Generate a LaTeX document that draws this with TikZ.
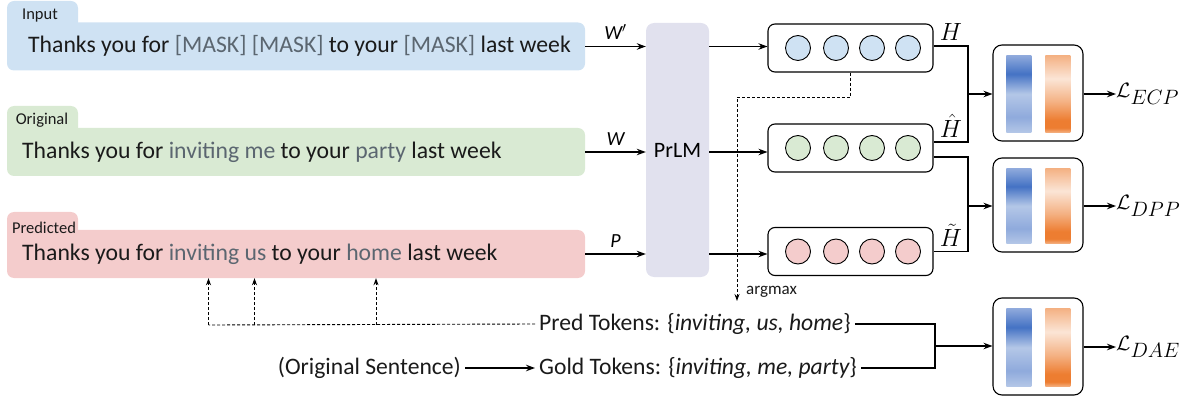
\documentclass[tikz,border=0pt]{standalone}
\usepackage{fontspec}
\setmainfont{Carlito}
\usetikzlibrary{arrows.meta,calc}
\definecolor{inblue}{HTML}{CFE2F3}
\definecolor{orggreen}{HTML}{D9EAD3}
\definecolor{predred}{HTML}{F4CCCC}
\definecolor{lmgray}{HTML}{E1E1EE}
\definecolor{wgray}{HTML}{5B6670}
\definecolor{txt}{HTML}{1A1A1A}
\definecolor{bL}{HTML}{B4C7E7}
\definecolor{bD}{HTML}{4472C4}
\definecolor{bM}{HTML}{8FAADC}
\definecolor{oL}{HTML}{FBE5D6}
\definecolor{oM}{HTML}{F4B183}
\definecolor{oD}{HTML}{ED7D31}
\pgfdeclareverticalshading{blueshade}{100bp}{color(0bp)=(bL); color(25bp)=(bL); color(35bp)=(bM); color(50bp)=(bL); color(63bp)=(bD); color(75bp)=(bM); color(100bp)=(bM)}
\pgfdeclareverticalshading{orangeshade}{100bp}{color(0bp)=(oM); color(25bp)=(oM); color(28bp)=(oD); color(33bp)=(oD); color(45bp)=(oM); color(60bp)=(oL); color(75bp)=(oM); color(100bp)=(oM)}
\begin{document}
\begin{tikzpicture}[x=1pt,y=-1pt,
  >={Stealth[length=9pt,width=6.5pt]},
  conn/.style={line width=1.1pt,->},
  plain/.style={line width=1.1pt},
  dsh/.style={line width=0.9pt, dash pattern=on 3pt off 2pt, -{Stealth[length=7pt,width=5pt]}},
  dshline/.style={line width=0.9pt, dash pattern=on 3pt off 2pt},
  sentbox/.style={rectangle, rounded corners=7pt, minimum width=578pt, minimum height=48pt, inner sep=0pt},
  tabbox/.style={rectangle, rounded corners=7pt, minimum width=71pt, minimum height=36pt, inner sep=0pt},
  tablabel/.style={font=\fontsize{16.5}{16.5}\selectfont, text=txt, inner sep=0pt},
  senttext/.style={font=\fontsize{23.7}{23.7}\selectfont, text=txt, anchor=west, inner sep=0pt},
  embbox/.style={draw, rounded corners=7pt, line width=1.1pt, minimum width=165pt, minimum height=48pt, inner sep=0pt},
  vec/.style={circle, draw, line width=0.9pt, minimum size=25pt, inner sep=0pt},
  clsbox/.style={draw, rounded corners=9pt, line width=1.1pt, minimum width=90pt, inner sep=0pt},
  hlabel/.style={font=\fontsize{26}{26}\selectfont, inner sep=0pt},
  llabel/.style={font=\fontsize{21}{21}\selectfont, inner sep=0pt, anchor=west},
  wlabel/.style={font=\fontsize{20}{20}\selectfont\itshape, inner sep=0pt},
  ttext/.style={font=\fontsize{23.6}{23.6}\selectfont, text=txt, inner xsep=4pt, inner ysep=0pt},
]
\useasboundingbox (0,0) rectangle (1189,398);

% sentence boxes with tabs
\node[tabbox, fill=inblue] (intab) at (42.5,19) {};
\node[sentbox, fill=inblue] (inbox) at (296,46.5) {};
\node[tablabel] (intabl) at (40,16) {Input};
\node[senttext] (intext) at (28,46) {Thanks you for \textcolor{wgray}{[MASK] [MASK]} to your \textcolor{wgray}{[MASK]} last week};

\node[tabbox, fill=orggreen] (orgtab) at (42.5,124) {};
\node[sentbox, fill=orggreen] (orgbox) at (296,152) {};
\node[tablabel] (orgtabl) at (42,120) {Original};
\node[senttext] (orgtext) at (22,152) {Thanks you for \textcolor{wgray}{inviting me} to your \textcolor{wgray}{party} last week};

\node[tabbox, fill=predred] (predtab) at (42.5,230) {};
\node[sentbox, fill=predred] (predbox) at (296,254) {};
\node[tablabel] (predtabl) at (44,228) {Predicted};
\node[senttext] (predtext) at (22,254) {Thanks you for \textcolor{wgray}{inviting us} to your \textcolor{wgray}{home} last week};

% PrLM
\node[rectangle, rounded corners=8pt, fill=lmgray, minimum width=63pt, minimum height=254pt, inner sep=0pt, font=\fontsize{22}{22}\selectfont] (prlm) at (677.5,150) {PrLM};

\draw[conn] (inbox.east) -- (prlm.west |- inbox.east) node[wlabel, midway, above=6pt] (wp) {W$'$};
\draw[conn] (orgbox.east) -- (prlm.west |- orgbox.east) node[wlabel, midway, above=6pt] (w) {W};
\draw[conn] (predbox.east) -- (prlm.west |- predbox.east) node[wlabel, midway, above=6pt] (p) {P};

% embeddings
\node[embbox] (h1) at (850.5,48) {};
\node[embbox] (h2) at (850.5,148) {};
\node[embbox] (h3) at (850.5,251.5) {};
\foreach \e/\c in {h1/inblue,h2/orggreen,h3/predred}{
  \foreach \i/\dx in {1/-52.5,2/-14.5,3/21.5,4/57.5}{
    \node[vec, fill=\c] (\e c\i) at ($(\e)+(\dx,0)$) {};
  }
}
\draw[conn] (prlm.east |- inbox.east) -- (h1.west |- inbox.east);
\draw[conn] (prlm.east |- orgbox.east) -- (h2.west |- orgbox.east);
\draw[conn] (prlm.east |- predbox.east) -- (h3.west |- predbox.east);

\node[hlabel] (lh1) at (951,32) {$H$};
\node[hlabel] (lh2) at (951,126) {$\hat{H}$};
\node[hlabel] (lh3) at (951,235) {$\tilde{H}$};

% classifiers
\node[clsbox, minimum height=96pt] (c1) at (1038,93) {};
\node[clsbox, minimum height=94pt] (c2) at (1038,205) {};
\node[clsbox, minimum height=97pt] (c3) at (1038,346.5) {};
\foreach \c in {c1,c2,c3}{
  \shade[shading=blueshade] ($(\c.north west)+(14,11)$) rectangle ($(\c.south west)+(39,-9)$);
  \shade[shading=orangeshade] ($(\c.north west)+(53,11)$) rectangle ($(\c.south west)+(78,-9)$);
}

\coordinate (j1) at (968,94);
\coordinate (j2) at (968,206);
\draw[plain] ([yshift=2pt]h1.east) -| (j1) |- ([yshift=6pt]h2.east);
\draw[plain] ([yshift=-9pt]h2.east) -| (j2) |- (h3.east);
\draw[conn] (j1) -- (c1.west |- j1);
\draw[conn] (j2) -- (c2.west |- j2);

\node[llabel] (l1) at (1116,94) {$\mathcal{L}_{\textstyle ECP}$};
\node[llabel] (l2) at (1116,206) {$\mathcal{L}_{\textstyle DPP}$};
\node[llabel] (l3) at (1116,347) {$\mathcal{L}_{\textstyle DAE}$};
\draw[conn] (c1.east |- l1.west) -- (l1.west);
\draw[conn] (c2.east |- l2.west) -- (l2.west);
\draw[conn] (c3.east |- l3.west) -- (l3.west);

% token texts
\node[ttext, anchor=west] (predtok) at (535,324) {Pred Tokens: \{{\itshape inviting, us, home}\}};
\node[ttext, anchor=west] (goldtok) at (535,368) {Gold Tokens: \{{\itshape inviting, me, party}\}};
\node[ttext, anchor=east] (origsent) at (465,368) {(Original Sentence)};
\draw[conn] (origsent.east) -- (goldtok.west);

\coordinate (j3) at (935,346);
\draw[plain] (predtok.east) -| (j3) |- (goldtok.east);
\draw[conn] (j3) -- (c3.west |- j3);

% argmax dashed
\coordinate (am) at (737,301);
\draw[dsh] (h1.south) |- (737,97) -- (am);
\node[font=\fontsize{17}{17}\selectfont, text=txt, anchor=west, inner sep=0pt] (argmax) at (746,292) {argmax};

% pred tokens back to sentence
\coordinate (d1) at (208.5,325);
\coordinate (d2) at (254.5,325);
\coordinate (d3) at (376,325);
\draw[dshline] (predtok.west) -- (d1);
\draw[dsh] (d1) -- (d1 |- predbox.south);
\draw[dsh] (d2) -- (d2 |- predbox.south);
\draw[dsh] (d3) -- (d3 |- predbox.south);
\end{tikzpicture}
\end{document}
